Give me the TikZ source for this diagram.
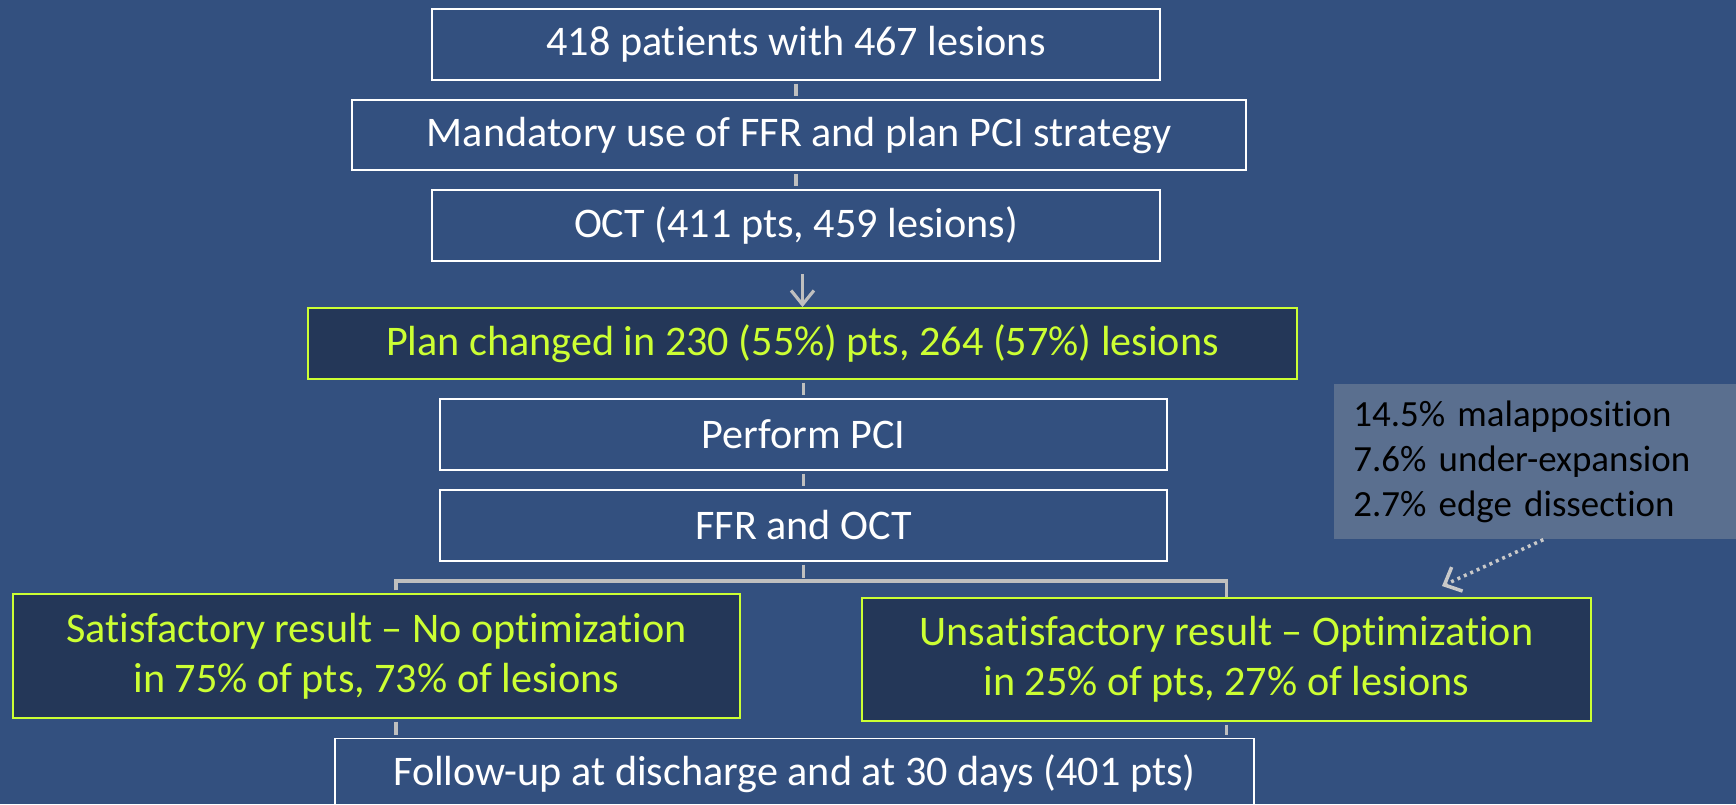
\documentclass[tikz,border=0pt]{standalone}
\usepackage{fontspec}
\setmainfont{Carlito}[Ligatures=NoCommon]
\usetikzlibrary{arrows.meta, calc}
\definecolor{bgblue}{HTML}{33507F}
\definecolor{navy}{HTML}{243758}
\definecolor{lime}{HTML}{CCFF33}
\definecolor{slate}{HTML}{5A6F8F}
\definecolor{linkgray}{HTML}{BFBFBF}

\begin{document}
\begin{tikzpicture}[
    x=0.02cm, y=-0.02cm,
    every node/.style={font=\fontsize{24}{28.4}\selectfont},
    box/.style={draw=white, line width=1.1pt, text=white,
        minimum width=14.56cm, minimum height=1.42cm, inner sep=0pt},
    hit/.style={draw=lime, fill=navy, line width=1.1pt, text=lime,
        minimum height=1.42cm, inner sep=0pt, align=center},
    link/.style={linkgray, line width=1.8pt, shorten <=1.5pt, shorten >=1.5pt},
    note/.style={fill=slate, text=black, align=left, anchor=north west,
        font=\fontsize{21}{25.5}\selectfont, text width=7.6cm,
        inner xsep=0.38cm, minimum height=3.1cm},
]
\fill[bgblue] (0,0) rectangle (1736,804);
\useasboundingbox (0,0) rectangle (1736,804);

% ---------------- upper chain
\node[box] (pts) at (796, 44.5) {418 patients with 467 lesions};
\node[box, minimum width=17.88cm, minimum height=1.40cm] (mand) at (799, 135)
    {Mandatory use of FFR and plan PCI strategy};
\node[box] (oct) at (796, 225.5) {OCT (411 pts, 459 lesions)};
\node[hit, minimum width=19.78cm] (plan) at (802.5, 343.5)
    {Plan changed in 230 (55\%) pts, 264 (57\%) lesions};

\draw[link] (pts.south) -- (pts.south |- mand.north);
\draw[link] (pts.south |- mand.south) -- (pts.south |- oct.north);
\draw[linkgray, line width=1.8pt, shorten <=0.24cm,
    -{Straight Barb[length=8pt, width=13pt]}] (plan.north |- oct.south) -- (plan.north);

% ---------------- procedure
\node[box, minimum width=14.54cm] (pci) at (803.5, 434.5) {Perform PCI};
\node[box, minimum width=14.54cm] (check) at (803.5, 525.5) {FFR and OCT};
\draw[link] (pci.north |- plan.south) -- (pci.north);
\draw[link] (pci.south) -- (check.north);

% ---------------- result split
\node[hit, minimum width=14.54cm, minimum height=2.48cm] (sat) at (376.5, 656)
    {Satisfactory result -- No optimization\\ in 75\% of pts, 73\% of lesions};
\node[hit, minimum width=14.58cm, minimum height=2.46cm] (unsat) at (1226.5, 659.5)
    {Unsatisfactory result -- Optimization\\ in 25\% of pts, 27\% of lesions};
\coordinate (forkL) at (396, 581);
\coordinate (forkR) at (unsat.north |- forkL);
\draw[link] (check.south) -- (check.south |- forkL);
\draw[linkgray, line width=1.8pt, shorten <=1.5pt]
    (forkL |- sat.north) -- (forkL) -- (forkR) -- (unsat.north);

% ---------------- follow-up
\node[box, minimum width=18.38cm] (follow) at (794.5, 774)
    {Follow-up at discharge and at 30 days (401 pts)};
\draw[link] (forkL |- sat.south) -- (forkL |- follow.north);
\draw[link] (unsat.south) -- (unsat.south |- follow.north);

% ---------------- OCT findings
\node[note] (defects) at (1334, 384)
    {14.5\% malapposition\\ 7.6\% under-expansion\\ 2.7\% edge dissection};
\coordinate (optTop) at (1442, 586);
\draw[linkgray!85!white, line width=2pt, dash pattern=on 1.7pt off 2.3pt,
    -{Straight Barb[length=8pt, width=15pt]}] (defects.south) -- (optTop);

\end{tikzpicture}
\end{document}
